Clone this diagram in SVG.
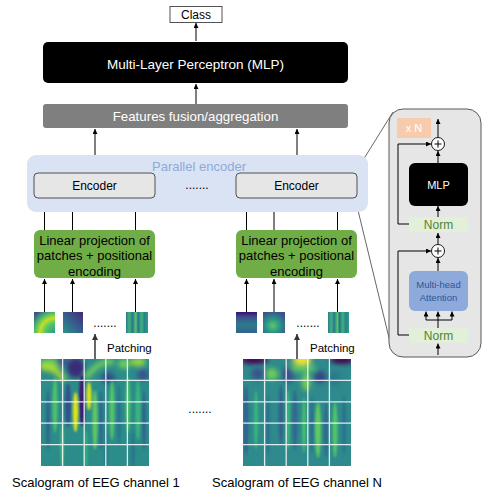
<svg xmlns="http://www.w3.org/2000/svg" width="485" height="498" viewBox="0 0 485 498">
<style>
text{font-family:"Liberation Sans",Arial,sans-serif;}
.ln{stroke:#000;stroke-width:1;fill:none;}
.lg{stroke:#404040;stroke-width:1.6;fill:none;}
.thin{stroke:#404040;stroke-width:0.8;fill:none;}
.enc{fill:#e7e6e6;stroke:#404040;stroke-width:0.9;}
.lin{fill:#70ad47;}
.grid{stroke:#ffffff;stroke-width:1.3;opacity:0.85;fill:none;}
.norm{fill:#e2f0d9;}
</style>
<defs>
<marker id="ah" viewBox="0 0 10 10" refX="10" refY="5" markerWidth="5" markerHeight="5" markerUnits="userSpaceOnUse" orient="auto"><path d="M0,0 L10,5 L0,10 z" fill="#000"/></marker>
<marker id="ahg" viewBox="0 0 10 10" refX="10" refY="5" markerWidth="6" markerHeight="6" markerUnits="userSpaceOnUse" orient="auto"><path d="M0,0 L10,5 L0,10 z" fill="#333"/></marker>
<filter id="b3" x="-50%" y="-50%" width="200%" height="200%"><feGaussianBlur stdDeviation="2.5"/></filter>
<filter id="b1" x="-50%" y="-50%" width="200%" height="200%"><feGaussianBlur stdDeviation="1.1"/></filter>
<clipPath id="c1"><rect x="41" y="359" width="108" height="107"/></clipPath>
<clipPath id="c2"><rect x="243" y="359" width="108" height="107"/></clipPath>
<radialGradient id="p1" cx="100%" cy="100%" r="130%"><stop offset="0" stop-color="#2a9a88"/><stop offset="0.35" stop-color="#52c569"/><stop offset="0.55" stop-color="#c2df23"/><stop offset="0.75" stop-color="#4ab86f"/><stop offset="1" stop-color="#3b528b"/></radialGradient>
<linearGradient id="p2" x1="0" y1="1" x2="1" y2="0"><stop offset="0" stop-color="#2a9488"/><stop offset="0.45" stop-color="#33638d"/><stop offset="1" stop-color="#482878"/></linearGradient>
<linearGradient id="p3" x1="0" y1="0" x2="1" y2="0"><stop offset="0" stop-color="#2c7a8c"/><stop offset="0.15" stop-color="#3eb37a"/><stop offset="0.3" stop-color="#2a788e"/><stop offset="0.45" stop-color="#56c667"/><stop offset="0.55" stop-color="#2d6f8e"/><stop offset="0.7" stop-color="#3cb37a"/><stop offset="0.85" stop-color="#27818e"/><stop offset="1" stop-color="#2fa083"/></linearGradient>
<linearGradient id="p4" x1="0" y1="0" x2="0" y2="1"><stop offset="0" stop-color="#3b0f70"/><stop offset="0.25" stop-color="#3b528b"/><stop offset="0.6" stop-color="#2d7a8c"/><stop offset="1" stop-color="#33638d"/></linearGradient>
<radialGradient id="p5" cx="45%" cy="65%" r="70%"><stop offset="0" stop-color="#5ec962"/><stop offset="0.45" stop-color="#2a968a"/><stop offset="1" stop-color="#3b528b"/></radialGradient>
</defs>

<g id="connectors">
<path class="ln" d="M196,41 L196,23" marker-end="url(#ah)"/>
<path class="ln" d="M196,104 L196,84" marker-end="url(#ah)"/>
<path class="ln" d="M95,173 L95,129" marker-end="url(#ah)"/>
<path class="ln" d="M297,173 L297,129" marker-end="url(#ah)"/>
<path class="ln" d="M44.5,230 L44.5,199" marker-end="url(#ah)"/>
<path class="ln" d="M72.5,230 L72.5,199" marker-end="url(#ah)"/>
<path class="ln" d="M135.5,230 L135.5,199" marker-end="url(#ah)"/>
<path class="ln" d="M246.5,230 L246.5,199" marker-end="url(#ah)"/>
<path class="ln" d="M274,230 L274,199" marker-end="url(#ah)"/>
<path class="ln" d="M337.5,230 L337.5,199" marker-end="url(#ah)"/>
<path class="ln" d="M44.5,312 L44.5,279" marker-end="url(#ah)"/>
<path class="ln" d="M72.5,312 L72.5,279" marker-end="url(#ah)"/>
<path class="ln" d="M135.5,312 L135.5,279" marker-end="url(#ah)"/>
<path class="ln" d="M246.5,312 L246.5,279" marker-end="url(#ah)"/>
<path class="ln" d="M274,312 L274,279" marker-end="url(#ah)"/>
<path class="ln" d="M337.5,312 L337.5,279" marker-end="url(#ah)"/>
<path class="lg" d="M95,359 L95,334" marker-end="url(#ahg)"/>
<path class="lg" d="M297,359 L297,334" marker-end="url(#ahg)"/>
<path class="thin" d="M355,173 L393,112"/>
<path class="thin" d="M355,198 L391,346"/>
</g>

<g id="class"><rect x="170" y="6.5" width="52" height="16" fill="#fff" stroke="#404040" stroke-width="0.9"/><text x="196" y="19" font-size="12" text-anchor="middle">Class</text></g>

<g id="mlp"><rect x="43" y="42" width="305" height="41" rx="5" fill="#000"/><text x="195.5" y="68.5" font-size="13.5" fill="#fff" text-anchor="middle">Multi-Layer Perceptron (MLP)</text></g>

<g id="fusion"><rect x="43" y="104" width="305" height="24" rx="3" fill="#7f7f7f"/><text x="195.5" y="121" font-size="13.3" fill="#fff" text-anchor="middle">Features fusion/aggregation</text></g>

<g id="parallel-encoder"><rect x="27" y="155" width="341" height="57" rx="9" fill="#dae3f3"/><text x="199" y="170.5" font-size="13" fill="#8eaadb" text-anchor="middle">Parallel encoder</text></g>

<g id="encoder1"><rect class="enc" x="34" y="173" width="121" height="25" rx="4"/><text x="94.5" y="190" font-size="12" text-anchor="middle">Encoder</text></g>
<g id="encoder-dots"><text x="197" y="189" font-size="12" text-anchor="middle">.......</text></g>
<g id="encoderN"><rect class="enc" x="236" y="173" width="121" height="25" rx="4"/><text x="296.5" y="190" font-size="12" text-anchor="middle">Encoder</text></g>

<g id="linear1"><rect class="lin" x="34" y="230" width="121" height="48" rx="6"/>
<text font-size="13" text-anchor="middle"><tspan x="94.5" y="244.5">Linear projection of</tspan><tspan x="94.5" y="260">patches + positional</tspan><tspan x="94.5" y="275.5">encoding</tspan></text></g>
<g id="linearN"><rect class="lin" x="236" y="230" width="121" height="48" rx="6"/>
<text font-size="13" text-anchor="middle"><tspan x="296.5" y="244.5">Linear projection of</tspan><tspan x="296.5" y="260">patches + positional</tspan><tspan x="296.5" y="275.5">encoding</tspan></text></g>

<g id="patches1">
<rect x="34" y="312" width="21" height="21" fill="url(#p1)"/>
<rect x="63" y="312" width="20" height="21" fill="url(#p2)"/>
<text x="105" y="327" font-size="12" text-anchor="middle">.......</text>
<rect x="126" y="312" width="22" height="21" fill="url(#p3)"/>
</g>
<g id="patchesN">
<rect x="236" y="312" width="21" height="21" fill="url(#p4)"/>
<rect x="263" y="312" width="22" height="21" fill="url(#p5)"/>
<text x="308" y="327" font-size="12" text-anchor="middle">.......</text>
<rect x="328" y="312" width="21" height="21" fill="url(#p3)"/>
</g>

<g id="patching-labels">
<text x="107" y="351.5" font-size="11.5">Patching</text>
<text x="310" y="351.5" font-size="11.5">Patching</text>
</g>

<g id="scalogram1">
<g clip-path="url(#c1)">
<rect x="41" y="359" width="108" height="107" fill="#2b8c8a"/>
<g filter="url(#b3)">
<ellipse cx="50" cy="364" rx="12" ry="5" fill="#7fd34e"/>
<path d="M41,368 Q55,366 64,380" stroke="#b8de29" stroke-width="5" fill="none"/>
<ellipse cx="76" cy="368" rx="9" ry="10" fill="#3b2a78"/>
<ellipse cx="62" cy="362" rx="6" ry="4" fill="#3b528b"/>
<path d="M86,378 Q98,360 114,362" stroke="#74d055" stroke-width="5" fill="none"/>
<ellipse cx="108" cy="378" rx="7" ry="6" fill="#33508a"/>
<ellipse cx="124" cy="364" rx="6" ry="5" fill="#6ccd5a"/>
<ellipse cx="138" cy="362" rx="8" ry="4" fill="#9bd93c"/>
<ellipse cx="143" cy="375" rx="6" ry="6" fill="#3b528b"/>
</g>
<g filter="url(#b1)">
<ellipse cx="68" cy="405" rx="3" ry="22" fill="#34508b"/>
<ellipse cx="75.5" cy="412" rx="2.6" ry="20" fill="#e2e418"/>
<ellipse cx="82" cy="400" rx="3" ry="26" fill="#3b1f70"/>
<ellipse cx="89" cy="396" rx="2.6" ry="14" fill="#d4e21a"/>
<ellipse cx="55" cy="405" rx="2.5" ry="28" fill="#4fc16b"/>
<ellipse cx="48" cy="420" rx="2" ry="30" fill="#33638d"/>
<ellipse cx="95" cy="420" rx="2.5" ry="30" fill="#5ec962"/>
<ellipse cx="101" cy="420" rx="2" ry="30" fill="#31688e"/>
<ellipse cx="112" cy="410" rx="2.5" ry="30" fill="#52c569"/>
<ellipse cx="119" cy="415" rx="2" ry="30" fill="#2c728e"/>
<ellipse cx="128" cy="405" rx="2.5" ry="28" fill="#4ac16d"/>
<ellipse cx="138" cy="410" rx="2.5" ry="30" fill="#3ab67a"/>
<ellipse cx="144" cy="420" rx="2" ry="30" fill="#33638d"/>
<ellipse cx="62" cy="445" rx="1.6" ry="22" fill="#46c06f"/>
<ellipse cx="86" cy="450" rx="1.6" ry="20" fill="#2fb47c"/>
<ellipse cx="106" cy="450" rx="1.6" ry="20" fill="#2c728e"/>
<ellipse cx="133" cy="450" rx="1.6" ry="20" fill="#2c728e"/>
</g>
</g>
<path class="grid" d="M62.6,359 V466 M84.2,359 V466 M105.8,359 V466 M127.4,359 V466 M41,380.4 H149 M41,401.8 H149 M41,423.2 H149 M41,444.6 H149"/>
</g>

<g id="scalogram-dots"><text x="200" y="413" font-size="12" text-anchor="middle">.......</text></g>

<g id="scalogramN">
<g clip-path="url(#c2)">
<rect x="243" y="359" width="108" height="107" fill="#2e8a8c"/>
<g filter="url(#b3)">
<ellipse cx="254" cy="360" rx="14" ry="4" fill="#440154"/>
<ellipse cx="302" cy="360" rx="10" ry="4" fill="#fde725"/>
<ellipse cx="302" cy="368" rx="14" ry="4" fill="#5ec962"/>
<ellipse cx="342" cy="360" rx="12" ry="4" fill="#440154"/>
<ellipse cx="258" cy="374" rx="7" ry="6" fill="#3b528b"/>
<ellipse cx="272" cy="374" rx="6" ry="6" fill="#6ccd5a"/>
<ellipse cx="288" cy="375" rx="6" ry="8" fill="#3b4f8a"/>
<ellipse cx="306" cy="382" rx="4" ry="9" fill="#7ad151"/>
<ellipse cx="320" cy="377" rx="6" ry="6" fill="#3b3f85"/>
<ellipse cx="335" cy="378" rx="6" ry="8" fill="#2a788e"/>
</g>
<g filter="url(#b1)">
<ellipse cx="246" cy="420" rx="2.5" ry="35" fill="#33638d"/>
<ellipse cx="256" cy="420" rx="2" ry="30" fill="#3ab67a"/>
<ellipse cx="268" cy="425" rx="2" ry="30" fill="#2c728e"/>
<ellipse cx="281" cy="415" rx="2.5" ry="30" fill="#33638d"/>
<ellipse cx="288" cy="420" rx="2" ry="30" fill="#3ab67a"/>
<ellipse cx="295" cy="420" rx="2.5" ry="30" fill="#31688e"/>
<ellipse cx="304" cy="425" rx="2" ry="28" fill="#45bd70"/>
<ellipse cx="312" cy="425" rx="2" ry="28" fill="#2c728e"/>
<ellipse cx="318" cy="430" rx="3" ry="28" fill="#5ec962"/>
<ellipse cx="326" cy="430" rx="2" ry="28" fill="#31688e"/>
<ellipse cx="335" cy="430" rx="2.5" ry="28" fill="#52c569"/>
<ellipse cx="344" cy="425" rx="2" ry="30" fill="#2c728e"/>
</g>
</g>
<path class="grid" d="M264.6,359 V466 M286.2,359 V466 M307.8,359 V466 M329.4,359 V466 M243,380.4 H351 M243,401.8 H351 M243,423.2 H351 M243,444.6 H351"/>
</g>

<g id="captions">
<text x="12" y="486.5" font-size="13">Scalogram of EEG channel 1</text>
<text x="212" y="486.5" font-size="13">Scalogram of EEG channel N</text>
</g>

<g id="encoder-detail">
<rect x="389" y="109" width="92" height="248" rx="14" fill="#e7e6e6" stroke="#595959" stroke-width="1"/>
<g id="xN"><rect x="397" y="118" width="34" height="20" fill="#f8cbad"/><text x="414" y="132" font-size="11" fill="#fff" text-anchor="middle">x N</text></g>
<g id="detail-connectors">
<path class="ln" d="M438,137.5 L438,119" marker-end="url(#ah)"/>
<path class="ln" d="M438,163 L438,151" marker-end="url(#ah)"/>
<path class="ln" d="M438,217 L438,206" marker-end="url(#ah)"/>
<path class="ln" d="M438,244.5 L438,233" marker-end="url(#ah)"/>
<path class="ln" d="M438,271 L438,258" marker-end="url(#ah)"/>
<path class="ln" d="M409,224 L398,224 L398,144 L431,144" marker-end="url(#ah)"/>
<path class="ln" d="M409,335 L398,335 L398,251 L431,251" marker-end="url(#ah)"/>
<path class="ln" d="M438,328 L438,320 M426,320 L452,320"/>
<path class="ln" d="M426,320 L426,311.5" marker-end="url(#ah)"/>
<path class="ln" d="M438,320 L438,311.5" marker-end="url(#ah)"/>
<path class="ln" d="M452,320 L452,311.5" marker-end="url(#ah)"/>
<path class="ln" d="M438,355 L438,343.5" marker-end="url(#ah)"/>
</g>
<g id="add1"><circle cx="438" cy="144" r="6.5" fill="#fff" stroke="#000" stroke-width="0.9"/><path class="ln" d="M434.5,144 H441.5 M438,140.5 V147.5"/></g>
<g id="mlp-block"><rect x="409" y="163" width="59" height="43" rx="6" fill="#000"/><text x="438.5" y="189" font-size="11" fill="#fff" text-anchor="middle">MLP</text></g>
<g id="norm1"><rect class="norm" x="409" y="217" width="59" height="15"/><text x="438.5" y="229" font-size="12" fill="#548235" text-anchor="middle">Norm</text></g>
<g id="add2"><circle cx="438" cy="251" r="6.5" fill="#fff" stroke="#000" stroke-width="0.9"/><path class="ln" d="M434.5,251 H441.5 M438,247.5 V254.5"/></g>
<g id="attention"><rect x="409" y="271" width="59" height="40" rx="6" fill="#8eaadb"/><text font-size="9.5" fill="#2f5597" text-anchor="middle"><tspan x="438.5" y="288">Multi-head</tspan><tspan x="438.5" y="301">Attention</tspan></text></g>
<g id="norm2"><rect class="norm" x="409" y="328" width="59" height="15"/><text x="438.5" y="340" font-size="12" fill="#548235" text-anchor="middle">Norm</text></g>
</g>
</svg>
